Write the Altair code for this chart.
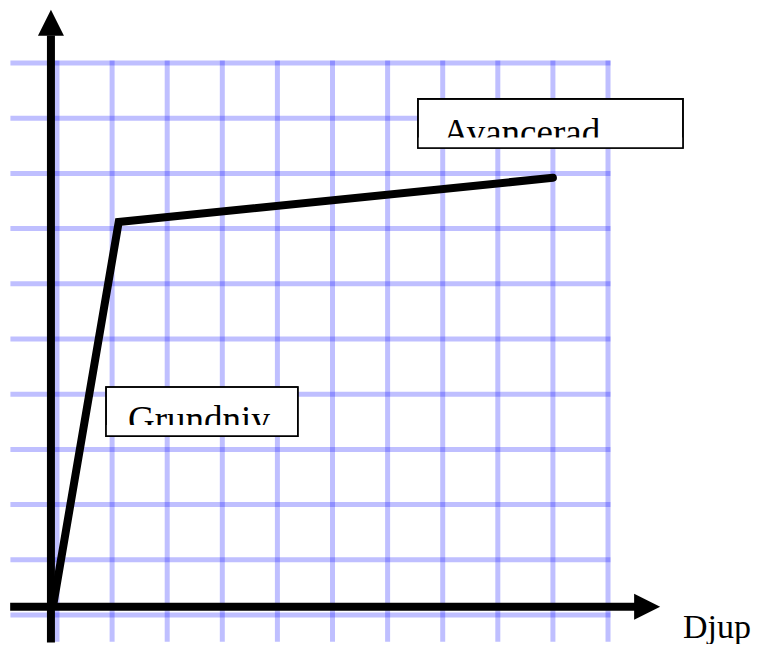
import altair as alt
import pandas as pd

# ---- data (grid units) ----
grid_u = list(range(11))          # vertical grid lines
grid_v = list(range(11))          # horizontal grid lines
hgrid_from, hgrid_to = -0.8, 10.0
vgrid_from, vgrid_to = -0.44, 10.0

line_x = [-0.07, 1.12, 9.0]
line_y = [0.17, 7.12, 7.92]

labels = ["Avancerad", "Grundniv"]
box_x0 = [6.55, 0.89]
box_x1 = [11.36, 4.37]
box_y0 = [8.46, 3.24]
box_y1 = [9.35, 4.13]
text_x = [7.0, 1.29]
text_y = [8.52, 3.31]
cut_y = [8.65, 3.44]

axis_u = -0.11
axis_v = 0.15
yaxis_top = 10.5
xaxis_right = 10.5
arrow_up = (-0.11, 10.73)
arrow_right = (10.71, 0.15)
xlabel = "Djup"
xlabel_pos = (11.36, -0.42)

W, H = 744, 636
XS = alt.Scale(domain=[-0.8893, 12.613], nice=False, zero=False)
YS = alt.Scale(domain=[-0.5254, 10.996], nice=False, zero=False)

def X(f="x"):
    return alt.X(f"{f}:Q", scale=XS, axis=None)

def Y(f="y"):
    return alt.Y(f"{f}:Q", scale=YS, axis=None)

GRID_COLOR = "#0000ff"

hgrid = alt.Chart(pd.DataFrame({"y": grid_v, "x": hgrid_from, "x2": hgrid_to})).mark_rule(
    color=GRID_COLOR, opacity=0.25, strokeWidth=5, strokeCap="square"
).encode(x=X(), x2="x2:Q", y=Y())

vgrid = alt.Chart(pd.DataFrame({"x": grid_u, "y": vgrid_from, "y2": vgrid_to})).mark_rule(
    color=GRID_COLOR, opacity=0.25, strokeWidth=5, strokeCap="square"
).encode(x=X(), y=Y(), y2="y2:Q")

yaxis = alt.Chart(pd.DataFrame({"x": [axis_u], "y": [vgrid_from - 0.06], "y2": [yaxis_top]})).mark_rule(
    color="black", strokeWidth=8
).encode(x=X(), y=Y(), y2="y2:Q")

xaxis = alt.Chart(pd.DataFrame({"y": [axis_v], "x": [hgrid_from - 0.05], "x2": [xaxis_right]})).mark_rule(
    color="black", strokeWidth=8
).encode(x=X(), x2="x2:Q", y=Y())

arr_up = alt.Chart(pd.DataFrame({"x": [arrow_up[0]], "y": [arrow_up[1]]})).mark_point(
    shape="M-1,1L0,-1L1,1Z", filled=True, size=676, color="black", opacity=1, strokeWidth=0
).encode(x=X(), y=Y())

arr_right = alt.Chart(pd.DataFrame({"x": [arrow_right[0]], "y": [arrow_right[1]]})).mark_point(
    shape="M-1,-1L1,0L-1,1Z", filled=True, size=676, color="black", opacity=1, strokeWidth=0
).encode(x=X(), y=Y())

dline = alt.Chart(pd.DataFrame({"x": line_x, "y": line_y, "o": [0, 1, 2]})).mark_line(
    color="black", strokeWidth=8, strokeCap="round", strokeJoin="miter"
).encode(x=X(), y=Y(), order="o:Q")

boxes_df = pd.DataFrame({
    "label": labels, "x": box_x0, "x2": box_x1, "y": box_y0, "y2": box_y1,
    "tx": text_x, "ty": text_y, "cy": cut_y,
})

box_fill = alt.Chart(boxes_df).mark_rect(fill="white", stroke="black", strokeWidth=1.6).encode(
    x=X(), x2="x2:Q", y=Y(), y2="y2:Q"
)

box_text = alt.Chart(boxes_df).mark_text(
    font="Liberation Serif", fontSize=37, align="left", baseline="alphabetic", color="black"
).encode(x=X("tx"), y=Y("ty"), text="label:N")

box_cover = alt.Chart(boxes_df).mark_rect(fill="white", strokeWidth=0).encode(
    x=X(), x2="x2:Q", y=Y(), y2="cy:Q"
)

box_outline = alt.Chart(boxes_df).mark_rect(fillOpacity=0, stroke="black", strokeWidth=1.6).encode(
    x=X(), x2="x2:Q", y=Y(), y2="y2:Q"
)

xl = alt.Chart(pd.DataFrame({"x": [xlabel_pos[0]], "y": [xlabel_pos[1]], "t": [xlabel]})).mark_text(
    font="Liberation Serif", fontSize=34, align="left", baseline="alphabetic", color="black"
).encode(x=X(), y=Y(), text="t:N")

chart = alt.layer(
    hgrid, vgrid, yaxis, xaxis, arr_up, arr_right, dline,
    box_fill, box_text, box_cover, box_outline, xl
).properties(
    width=W, height=H, padding=0, autosize=alt.AutoSizeParams(type="none")
).configure_view(stroke=None)

chart.save("out.html", embed_options={"renderer": "svg", "actions": False})
